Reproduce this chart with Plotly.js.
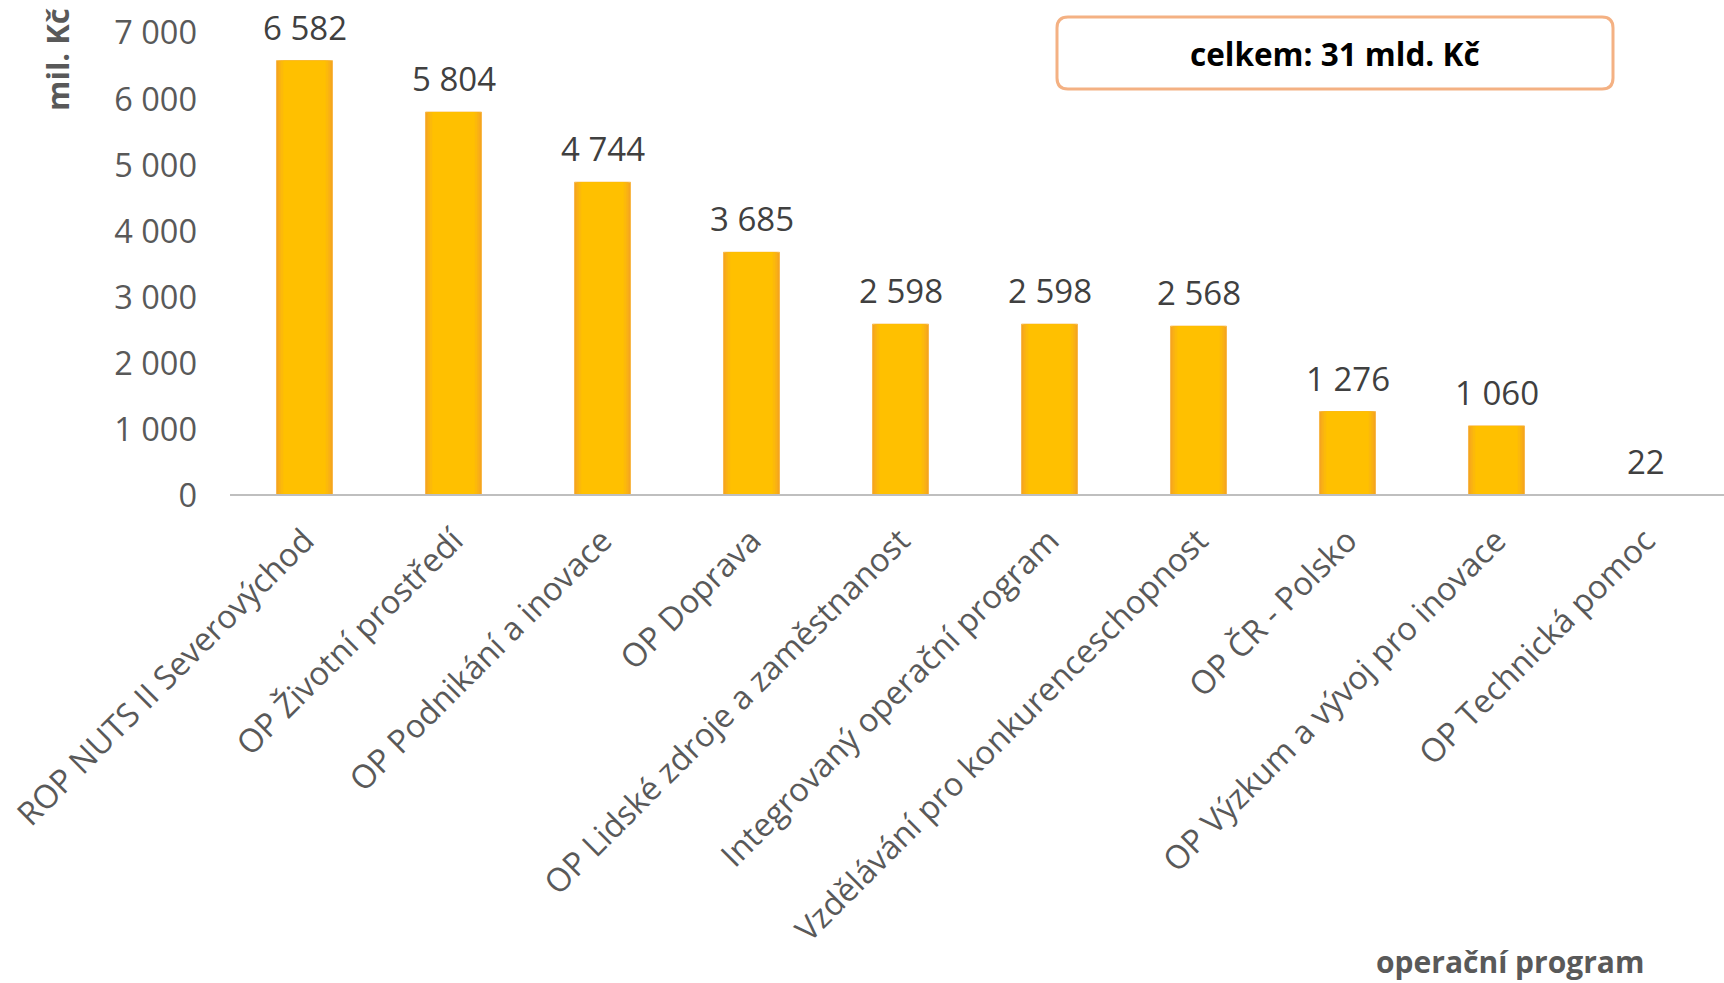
<!DOCTYPE html>
<html>
<head>
<meta charset="utf-8">
<script src="https://cdn.plot.ly/plotly-3.0.1.min.js"></script>
<style>html,body{margin:0;padding:0;background:#fff;}#chart{width:1724px;height:983px;}</style>
</head>
<body>
<div id="chart"></div>
<script>
const categories = [
  "ROP NUTS II Severovýchod",
  "OP Životní prostředí",
  "OP Podnikání a inovace",
  "OP Doprava",
  "OP Lidské zdroje a zaměstnanost",
  "Integrovaný operační program",
  "Vzdělávání pro konkurenceschopnost",
  "OP ČR - Polsko",
  "OP Výzkum a vývoj pro inovace",
  "OP Technická pomoc"
];
const values = [6582, 5804, 4744, 3685, 2598, 2598, 2568, 1276, 1060, 22];
const yTickVals = [0, 1000, 2000, 3000, 4000, 5000, 6000, 7000];
const yTickText = ["0", "1 000", "2 000", "3 000", "4 000", "5 000", "6 000", "7 000"];
const yTitle = "mil. Kč";
const xTitle = "operační program";
const totalText = "celkem: 31 mld. Kč";

function fmt(v) { return String(v).replace(/\B(?=(\d{3})+(?!\d))/g, " "); }

const W = 1724, H = 983;
const L = 230, R = 4, T = 33, B = 487;
const pw = W - L - R, ph = H - T - B;
const px = x => (x - L) / pw;
const py = y => (H - B - y) / ph;

function roundedBox(x0, y0, x1, y1, r) {
  const X = px, Y = py;
  return `M ${X(x0 + r)} ${Y(y0)} L ${X(x1 - r)} ${Y(y0)} Q ${X(x1)} ${Y(y0)} ${X(x1)} ${Y(y0 + r)} ` +
         `L ${X(x1)} ${Y(y1 - r)} Q ${X(x1)} ${Y(y1)} ${X(x1 - r)} ${Y(y1)} ` +
         `L ${X(x0 + r)} ${Y(y1)} Q ${X(x0)} ${Y(y1)} ${X(x0)} ${Y(y1 - r)} ` +
         `L ${X(x0)} ${Y(y0 + r)} Q ${X(x0)} ${Y(y0)} ${X(x0 + r)} ${Y(y0)} Z`;
}

// layered bars to mimic the soft orange edge gradient
const layers = [
  { width: 0.376, color: "#F5A51E", line: "#F8B84A" },
  { width: 0.350, color: "#F9B015", line: "rgba(0,0,0,0)" },
  { width: 0.320, color: "#FCB90A", line: "rgba(0,0,0,0)" },
  { width: 0.285, color: "#FFC000", line: "rgba(0,0,0,0)" }
];
const traces = layers.map(l => ({
  type: "bar",
  x: categories,
  y: values,
  width: l.width,
  marker: { color: l.color, line: { color: l.line, width: 1 } },
  hoverinfo: "x+y"
}));

const labelAnns = categories.map((c, i) => ({
  x: c, y: values[i], xref: "x", yref: "y",
  text: fmt(values[i]), showarrow: false,
  yanchor: "bottom", yshift: 9,
  font: { family: "Open Sans", size: 33, color: "#404040" }
}));

const layout = {
  width: W, height: H,
  margin: { l: L, r: R, t: T, b: B, pad: 0 },
  paper_bgcolor: "#ffffff",
  plot_bgcolor: "#ffffff",
  showlegend: false,
  barmode: "overlay",
  font: { family: "Open Sans", color: "#595959" },
  xaxis: {
    type: "category",
    tickangle: -45,
    tickfont: { family: "Open Sans", size: 32.5, color: "#595959" },
    showline: false,
    ticks: "", showgrid: false, zeroline: false,
    ticklabelstandoff: 18,
    automargin: false
  },
  yaxis: {
    range: [0, 7000],
    tickvals: yTickVals, ticktext: yTickText,
    tickfont: { family: "Open Sans", size: 32.5, color: "#595959" },
    showline: false, showgrid: false, zeroline: false,
    ticks: "", ticklabelstandoff: 32,
    automargin: false
  },
  annotations: labelAnns.concat([
    {
      xref: "paper", yref: "paper", x: px(57), y: py(60),
      xanchor: "center", yanchor: "middle", textangle: -90,
      text: "<b>" + yTitle + "</b>", showarrow: false,
      font: { family: "Open Sans", size: 31, color: "#595959" }
    },
    {
      xref: "paper", yref: "paper", x: px(1510), y: py(961),
      xanchor: "center", yanchor: "middle",
      text: "<b>" + xTitle + "</b>", showarrow: false,
      font: { family: "Open Sans", size: 30, color: "#595959" }
    },
    {
      xref: "paper", yref: "paper", x: px(1335), y: py(53),
      xanchor: "center", yanchor: "middle",
      text: "<b>" + totalText + "</b>", showarrow: false,
      font: { family: "Open Sans", size: 31.5, color: "#000000" }
    }
  ]),
  shapes: [
    {
      type: "line", xref: "paper", yref: "y",
      x0: 0, x1: 1.01, y0: 0, y1: 0,
      line: { color: "#BFBFBF", width: 4 },
      layer: "above"
    },
    {
      type: "path", xref: "paper", yref: "paper",
      path: roundedBox(1057, 17, 1613, 89, 11),
      line: { color: "#F4B183", width: 3 },
      fillcolor: "rgba(255,255,255,0)"
    }
  ]
};

Plotly.newPlot("chart", traces, layout, { displayModeBar: false, staticPlot: true });
</script>
</body>
</html>
